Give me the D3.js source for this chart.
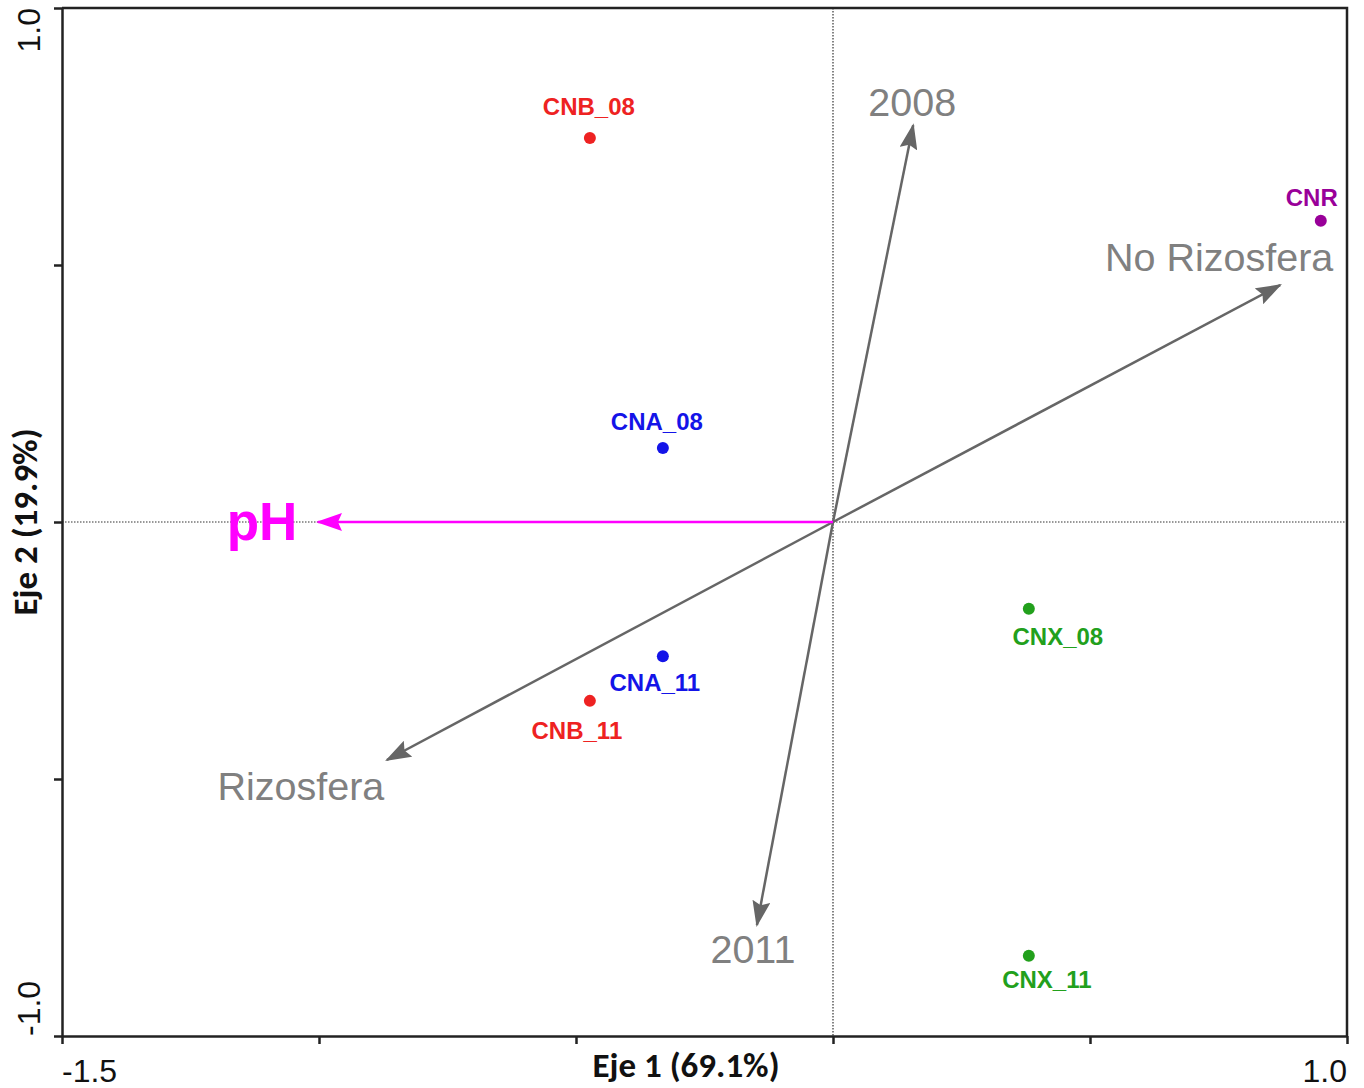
<!DOCTYPE html>
<html>
<head>
<meta charset="utf-8">
<script src="https://cdn.jsdelivr.net/npm/d3@7"></script>
<style>
  html, body { margin: 0; padding: 0; background: #fff; }
  svg { display: block; }
</style>
</head>
<body>
<svg id="chart" width="1364" height="1088"></svg>
<script>
// Samples (site scores)
const sampleNames = ["CNB_08", "CNA_08", "CNA_11", "CNB_11", "CNR", "CNX_08", "CNX_11"];
const sampleX = [-0.473, -0.331, -0.331, -0.473, 0.949, 0.381, 0.381];
const sampleY = [0.747, 0.144, -0.261, -0.348, 0.586, -0.169, -0.844];
const sampleColors = ["#ee2222", "#1414e8", "#1414e8", "#ee2222", "#990099", "#22a01c", "#22a01c"];

// Explanatory variables (biplot arrows)
const varNames = ["2008", "2011", "No Rizosfera", "Rizosfera", "pH"];
const varX = [0.156, -0.148, 0.870, -0.868, -1.002];
const varY = [0.772, -0.784, 0.461, -0.463, 0.0];

// Axis ticks
const xTicks = [-1.5, -1.0, -0.5, 0, 0.5, 1.0];
const yTicks = [-1.0, -0.5, 0, 0.5, 1.0];
const xTickLabels = ["-1.5", "1.0"];
const yTickLabels = ["-1.0", "1.0"];
const xTitle = "Eje 1 (69.1%)";
const yTitle = "Eje 2 (19.9%)";

const margin = { left: 62, right: 17, top: 8, bottom: 52 };
const W = 1364, H = 1088;
const svg = d3.select("#chart");

const x = d3.scaleLinear().domain([-1.5, 1.0]).range([margin.left, W - margin.right]);
const y = d3.scaleLinear().domain([-1.0, 1.0]).range([H - margin.bottom, margin.top]);

const axisColor = "#222";

// Origin reference lines (dotted)
svg.append("line")
  .attr("x1", x(0)).attr("x2", x(0)).attr("y1", y(1)).attr("y2", y(-1))
  .attr("stroke", "#333").attr("stroke-width", 1.2).attr("stroke-dasharray", "1.5,1.5");
svg.append("line")
  .attr("x1", x(-1.5)).attr("x2", x(1.0)).attr("y1", y(0)).attr("y2", y(0))
  .attr("stroke", "#333").attr("stroke-width", 1.2).attr("stroke-dasharray", "1.5,1.5");

// Frame (top and right)
svg.append("path")
  .attr("d", `M${x(-1.5)},${y(1)}H${x(1.0)}V${y(-1)}`)
  .attr("fill", "none").attr("stroke", axisColor).attr("stroke-width", 2.5);

// Axes
const gx = svg.append("g")
  .attr("transform", `translate(0,${y(-1)})`)
  .call(d3.axisBottom(x).tickValues(xTicks).tickSize(8).tickSizeOuter(0).tickFormat(""));
const gy = svg.append("g")
  .attr("transform", `translate(${x(-1.5)},0)`)
  .call(d3.axisLeft(y).tickValues(yTicks).tickSize(8).tickSizeOuter(0).tickFormat(""));
[gx, gy].forEach(g => {
  g.selectAll("path, line").attr("stroke", axisColor).attr("stroke-width", 2.5);
});

// End tick labels
const tickFont = "'Liberation Sans', Arial, sans-serif";
xTickLabels.forEach((t, i) => {
  svg.append("text")
    .attr("x", x(+t)).attr("y", H - 6)
    .attr("text-anchor", i === 0 ? "start" : "end")
    .attr("font-family", tickFont).attr("font-size", 32).attr("fill", "#111")
    .text(t);
});
yTickLabels.forEach((t, i) => {
  svg.append("text")
    .attr("transform", `translate(40,${y(+t)}) rotate(-90)`)
    .attr("text-anchor", i === 0 ? "start" : "end")
    .attr("font-family", tickFont).attr("font-size", 32).attr("fill", "#111")
    .text(t);
});

// Axis titles
const titleFont = "Carlito, 'Open Sans', Lato, sans-serif";
svg.append("text")
  .attr("x", 686).attr("y", 1077)
  .attr("text-anchor", "middle")
  .attr("font-family", titleFont).attr("font-weight", "bold").attr("font-size", 35).attr("fill", "#111")
  .text(xTitle);
svg.append("text")
  .attr("transform", `translate(37,${y(0)}) rotate(-90)`)
  .attr("text-anchor", "middle")
  .attr("font-family", titleFont).attr("font-weight", "bold").attr("font-size", 35).attr("fill", "#111")
  .text(yTitle);

// Arrowhead markers
const defs = svg.append("defs");
function marker(id, color) {
  defs.append("marker")
    .attr("id", id)
    .attr("viewBox", "0 0 26 18")
    .attr("refX", 24).attr("refY", 9)
    .attr("markerWidth", 26).attr("markerHeight", 18)
    .attr("markerUnits", "userSpaceOnUse")
    .attr("orient", "auto")
    .append("path")
    .attr("d", "M0,0 L26,9 L0,18 L4,9 Z")
    .attr("fill", color);
}
marker("arrGray", "#666");
marker("arrPink", "#ff00ff");

const varColor = (name) => name === "pH" ? "#ff00ff" : "#666";
svg.append("g").selectAll("line")
  .data(varNames.map((n, i) => ({ n, vx: varX[i], vy: varY[i] })))
  .join("line")
  .attr("x1", x(0)).attr("y1", y(0))
  .attr("x2", d => x(d.vx)).attr("y2", d => y(d.vy))
  .attr("stroke", d => varColor(d.n))
  .attr("stroke-width", 2.5)
  .attr("marker-end", d => d.n === "pH" ? "url(#arrPink)" : "url(#arrGray)");

// Arrow labels
const varLabelPos = {
  "2008": { dx: -1, dy: -9 },
  "2011": { dx: -4, dy: 38 },
  "No Rizosfera": { dx: -61, dy: -14 },
  "Rizosfera": { dx: -86, dy: 40 },
  "pH": { dx: -56, dy: 18 }
};
varNames.forEach((n, i) => {
  const p = varLabelPos[n];
  svg.append("text")
    .attr("x", x(varX[i]) + p.dx).attr("y", y(varY[i]) + p.dy)
    .attr("text-anchor", "middle")
    .attr("font-family", tickFont)
    .attr("font-weight", n === "pH" ? "bold" : "normal")
    .attr("font-size", n === "pH" ? 53 : 39.5)
    .attr("fill", n === "pH" ? "#ff00ff" : "#808080")
    .text(n);
});

// Sample points
svg.append("g").selectAll("circle")
  .data(sampleNames.map((n, i) => ({ n, sx: sampleX[i], sy: sampleY[i], c: sampleColors[i] })))
  .join("circle")
  .attr("cx", d => x(d.sx)).attr("cy", d => y(d.sy))
  .attr("r", 6)
  .attr("fill", d => d.c);

// Sample labels
const sampleLabelPos = {
  "CNB_08": { dx: -1, dy: -23 },
  "CNA_08": { dx: -6, dy: -18 },
  "CNA_11": { dx: -8, dy: 35 },
  "CNB_11": { dx: -13, dy: 38 },
  "CNR": { dx: -9, dy: -15 },
  "CNX_08": { dx: 29, dy: 36 },
  "CNX_11": { dx: 18, dy: 32 }
};
sampleNames.forEach((n, i) => {
  const p = sampleLabelPos[n];
  svg.append("text")
    .attr("x", x(sampleX[i]) + p.dx).attr("y", y(sampleY[i]) + p.dy)
    .attr("text-anchor", "middle")
    .attr("font-family", tickFont).attr("font-weight", "bold").attr("font-size", 24)
    .attr("fill", sampleColors[i])
    .text(n);
});
</script>
</body>
</html>
